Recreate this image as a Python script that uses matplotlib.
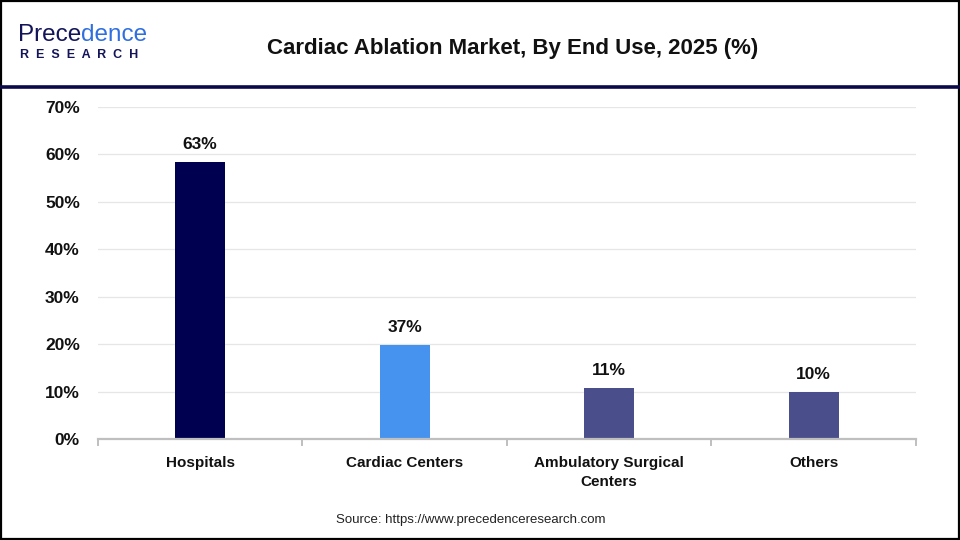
import numpy as np
import matplotlib.pyplot as plt
from matplotlib.lines import Line2D
from matplotlib.patches import Rectangle

plt.rcParams['font.family'] = ['Liberation Sans', 'DejaVu Sans']

# chart data
categories = ['Hospitals', 'Cardiac Centers', 'Ambulatory Surgical\nCenters', 'Others']
bar_values = [58.4, 19.8, 10.8, 9.9]
bar_labels = ['63%', '37%', '11%', '10%']
bar_colors = ['#000050', '#4593EE', '#4A4E8A', '#4A4E8A']
y_ticks = [0, 10, 20, 30, 40, 50, 60, 70]

fig = plt.figure(figsize=(9.6, 5.4), dpi=100)
ax = fig.add_axes([0.102, 0.187, 0.852, 0.615])

x = np.arange(len(categories))
ax.bar(x, bar_values, width=0.245, color=bar_colors, zorder=3)
for xi, v, lab in zip(x, bar_values, bar_labels):
    ax.annotate(lab, (xi, v), xytext=(0, 7), textcoords='offset points',
                ha='center', va='bottom', fontsize=12.5, fontweight='bold',
                color='#111111')

ax.set_xlim(-0.5, len(categories) - 0.5)
ax.set_ylim(0, 70)
ax.set_yticks(y_ticks)
ax.set_yticklabels([f'{t}%' for t in y_ticks], fontsize=12.5, fontweight='bold',
                   color='#111111')
ax.set_xticks(x)
ax.set_xticklabels(categories, fontsize=11, fontweight='bold', color='#111111',
                   linespacing=1.5)
ax.tick_params(axis='y', length=0, pad=13)
ax.tick_params(axis='x', length=0, pad=12)
ax.grid(axis='y', color='#e6e6e6', linewidth=0.9, zorder=0)
for s in ['top', 'right', 'left']:
    ax.spines[s].set_visible(False)
ax.spines['bottom'].set_color('#bfbfbf')
ax.spines['bottom'].set_linewidth(1.6)
ax.spines['bottom'].set_zorder(4)

# boundary tick marks below the axis
for b in np.arange(-0.5, len(categories), 1.0):
    ax.plot([b, b], [0, -1.3], color='#bfbfbf', lw=1.4, clip_on=False, zorder=4)

# header
fig.text(0.534, 0.911, 'Cardiac Ablation Market, By End Use, 2025 (%)',
         ha='center', va='center', fontsize=16, fontweight='bold', color='#111111')
fig.add_artist(Line2D([0, 1], [0.838, 0.838], color='#0a0a4a', lw=2.6))

# logo
t1 = fig.text(0.019, 0.935, 'Prece', ha='left', va='center', fontsize=17.5,
              color='#14145a')
fig.canvas.draw()
bb = t1.get_window_extent()
fig.text(bb.x1 / 960, 0.935, 'dence', ha='left', va='center', fontsize=17.5,
         color='#2f6fe0')
fig.text(0.021, 0.899, 'R  E  S  E  A  R  C  H', ha='left', va='center',
         fontsize=9, color='#14145a', fontweight='bold')

# source
fig.text(0.49, 0.037, 'Source: https://www.precedenceresearch.com', ha='center',
         va='center', fontsize=9.5, color='#222222')

# outer border
fig.add_artist(Rectangle((0.001, 0.002), 0.998, 0.996, transform=fig.transFigure,
                         fill=False, edgecolor='black', lw=1.6))

fig.savefig('out.png', dpi=100)
